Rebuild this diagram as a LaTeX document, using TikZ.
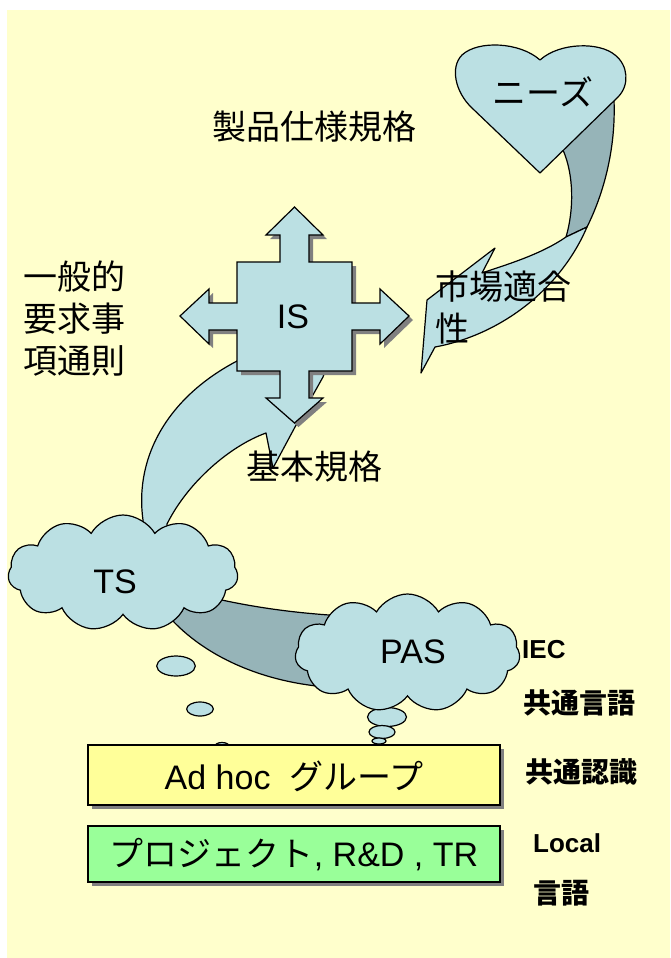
\documentclass[tikz,border=0pt]{standalone}
\usepackage{fontspec}
\setmainfont{Liberation Sans}
\newfontfamily\jp{Noto Sans CJK JP}
\usetikzlibrary{shapes.symbols,shadows}
\definecolor{bgyellow}{HTML}{FFFFCC}
\definecolor{lightblue}{HTML}{BBE0E3}
\definecolor{darkteal}{HTML}{96B4B8}
\definecolor{shadowgray}{HTML}{808080}
\definecolor{adhocyellow}{HTML}{FFFF99}
\definecolor{projgreen}{HTML}{99FF99}
\newcommand\iscrosspath{(237,262) -- (280,262) -- (280,235) -- (266,235) -- (294.5,207) -- (323,235) -- (309,235) -- (309,262) -- (352,262) -- (352,303) -- (380,303) -- (380,289) -- (409,316) -- (380,344) -- (380,330) -- (352,330) -- (352,371) -- (309,371) -- (309,398) -- (323,398) -- (294.5,423) -- (266,398) -- (280,398) -- (280,371) -- (237,371) -- (237,330) -- (209,330) -- (209,344) -- (180,316) -- (209,289) -- (209,303) -- (237,303) -- cycle}
\begin{document}
\begin{tikzpicture}[x=1pt,y=-1pt]
\tikzset{
  lightshape/.style={draw=black, fill=lightblue, line width=1.2pt, line join=round},
  darkshape/.style={draw=black, fill=darkteal, line width=1.2pt, line join=round},
  cloudnode/.style={cloud, cloud puffs=11, cloud puff arc=120, cloud ignores aspect, draw=black, fill=lightblue, line width=1.2pt, inner sep=0pt},
  jptext/.style={font=\jp\fontsize{34}{42}\selectfont, inner sep=0pt},
  latintext/.style={font=\fontsize{34}{40}\selectfont, inner sep=0pt},
  boldjp/.style={font=\jp\bfseries\fontsize{28}{32}\selectfont, inner sep=0pt, anchor=west},
  boldlatin/.style={font=\bfseries\fontsize{26}{30}\selectfont, inner sep=0pt, anchor=west},
  layerbox/.style={draw=black, line width=1.2pt, minimum width=412pt, inner sep=0pt,
    drop shadow={shadow xshift=4pt, shadow yshift=-4pt, fill=shadowgray, opacity=1}},
}
\useasboundingbox (0,0) rectangle (670,958);
\fill[white] (0,0) rectangle (670,958);
\fill[bgyellow] (7,10) rectangle (670,958);

% band TS -> PAS
\path[darkshape] (200,595) .. controls (245,606) and (290,613) .. (345,616) -- (345,688) .. controls (265,686) and (200,655) .. (165,612) -- cycle;

% arrow TS -> IS
\path[lightshape] (145,550) -- (143,520) .. controls (134,455) and (170,393) .. (245,357) -- (330,357) -- (323,377) -- (295,427) -- (273,468) -- (266,433) .. controls (230,446) and (188,482) .. (167,524) -- (170,550) -- cycle;

% thought bubbles
\path[lightshape] (176,666) ellipse [x radius=19.3pt, y radius=10pt];
\path[lightshape] (200,709) ellipse [x radius=13.3pt, y radius=7pt];
\path[lightshape] (222,746) ellipse [x radius=7pt, y radius=3.5pt];
\path[lightshape] (387,717) ellipse [x radius=19.5pt, y radius=9.5pt];
\path[lightshape] (382,732) ellipse [x radius=13pt, y radius=6.5pt];
\path[lightshape] (379,741) ellipse [x radius=7pt, y radius=3pt];

% clouds
\node[cloudnode, minimum width=230pt, minimum height=116pt] (tscloud) at (123,573) {};
\node[cloudnode, minimum width=225pt, minimum height=118pt] (pascloud) at (407.5,653) {};
\node[latintext] (ts) at (115,582) {TS};
\node[latintext] (pas) at (413,652) {PAS};

% ribbon from heart
\path[darkshape] (563,150) .. controls (574,175) and (574,210) .. (566,237) -- (587,227) .. controls (603,195) and (616,150) .. (614,100) -- (600,100) -- cycle;
\path[lightshape] (587,227) -- (566,237) .. controls (540,255) and (505,265) .. (482,273) -- (495,248) -- (427,300) -- (421,373) -- (435,347) .. controls (500,335) and (560,290) .. (587,227) -- cycle;

% heart
\path[lightshape] (540,60) .. controls (520,42) and (478,40) .. (462,55) .. controls (450,67) and (455,92) .. (472,108) -- (540,173) -- (618,97) .. controls (630,85) and (628,65) .. (615,55) .. controls (600,42) and (560,42) .. (540,60) -- cycle;
\node[jptext] (needs) at (543,92) {ニーズ};

% IS cross
\fill[shadowgray, shift={(4,4)}] \iscrosspath;
\path[lightshape, line join=miter] \iscrosspath;
\node[latintext] (is) at (293,317) {IS};

% texts
\node[jptext] (seihin) at (314,127) {製品仕様規格};
\node[jptext, anchor=west, align=left] (ippan) at (23,319) {一般的\\要求事\\項通則};
\node[jptext, anchor=west, align=left] (shijo) at (435,307.5) {市場適合\\性};
\node[jptext] (kihon) at (314,467) {基本規格};

% layer boxes
\node[layerbox, fill=adhocyellow, minimum height=60pt] (adhoc) at (294,775) {};
\node[latintext, font=\fontsize{34}{40}\selectfont] (adhoctext) at (294,776) {Ad hoc\hspace{0.55em}{\jp グループ}};
\node[layerbox, fill=projgreen, minimum height=56pt] (proj) at (294,854) {};
\node[latintext] (projtext) at (294,855) {{\jp プロジェクト}, R\&D , TR};

% right labels
\node[boldlatin] (iec) at (522,650) {IEC};
\node[boldjp] (kyotsugengo) at (523,703) {共通言語};
\node[boldjp] (kyotsuninshiki) at (525,772) {共通認識};
\node[boldlatin] (local) at (533,843) {Local};
\node[boldjp] (gengo) at (533,893) {言語};
\end{tikzpicture}
\end{document}
